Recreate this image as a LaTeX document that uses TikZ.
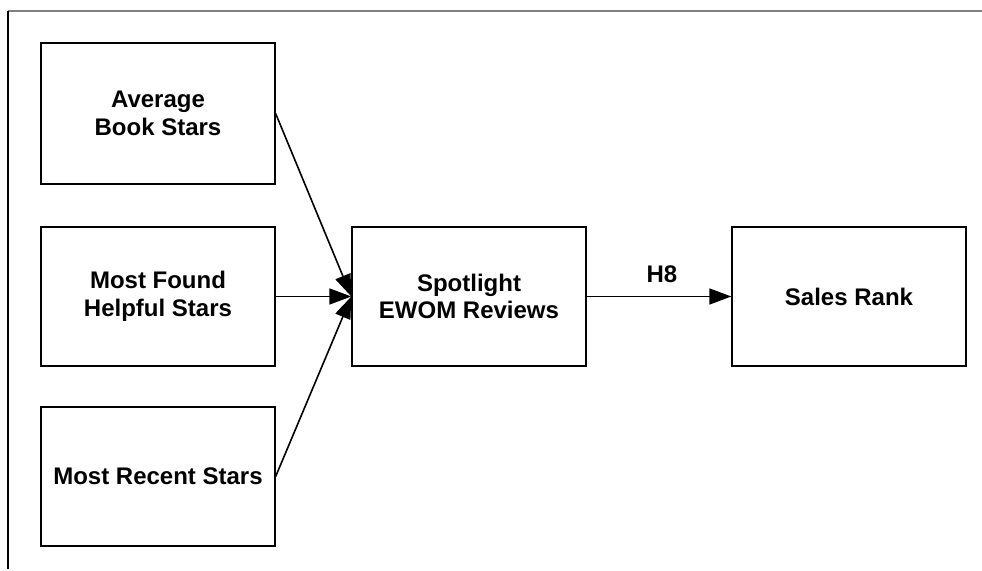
\documentclass[tikz,border=0pt]{standalone}
\usepackage{fontspec}
\setmainfont{Liberation Sans}
\usetikzlibrary{arrows.meta}
\begin{document}
\begin{tikzpicture}[x=1pt,y=-1pt,
  box/.style={draw=black,line width=1.3pt,minimum width=234pt,minimum height=139pt,
    inner sep=0pt,align=center,font=\fontsize{24}{27.6}\selectfont\bfseries},
  link/.style={line width=1.6pt,-{Triangle[length=22pt,width=16pt]}},
  lbl/.style={font=\fontsize{24}{27.6}\selectfont\bfseries}]
\useasboundingbox (0,0) rectangle (982,570);
% partial outer frame
\draw[line width=1.7pt,draw=gray] (8,11) -- (982,11);
\draw[line width=1.3pt] (8,11) -- (8,569);
% predictor boxes
\node[box,minimum height=141pt] (avg) at (158,113.5) {Average\\Book Stars};
\node[box] (help) at (158,296.5) {Most Found\\Helpful Stars};
\node[box] (recent) at (158,476.5) {Most Recent Stars};
% mediator and outcome
\node[box] (spot) at (469,296.5) {Spotlight\\EWOM Reviews};
\node[box] (sales) at (849,296.5) {Sales Rank};
% connectors
\draw[link] (avg.east) -- (spot.west);
\draw[link] (help.east) -- (spot.west);
\draw[link] (recent.east) -- (spot.west);
\draw[link] (spot.east) -- node[lbl,above=10pt,xshift=3pt] (h8) {H8} (sales.west);
\end{tikzpicture}
\end{document}
